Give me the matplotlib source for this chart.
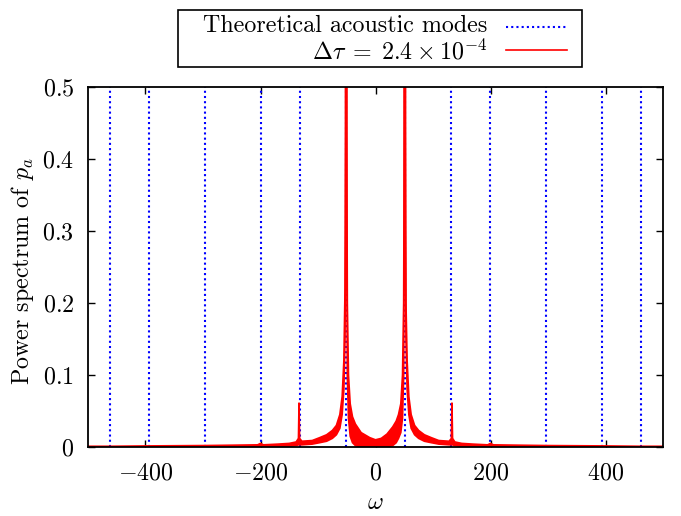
import matplotlib
matplotlib.use('Agg')
import matplotlib.pyplot as plt
from matplotlib.lines import Line2D
from matplotlib.patches import Rectangle

# theoretical acoustic mode frequencies
modes = [-462, -394, -297, -199, -131, -51, 51, 131, 199, 297, 394, 462]

# power spectrum of p_a (upper / lower envelope of the noisy trace)
omega = [-500, -460, -400, -300, -250, -205, -200, -195, -170, -150, -138, -134, -133, -132,
         -128, -110, -97, -85, -75, -68, -62, -58, -55, -53, -52, -51, -50, -49, -47, -44,
         -40, -35, -25, -10, 0, 10, 20, 30, 36, 40, 44, 47, 49, 50, 51, 52, 53, 55, 58, 62,
         68, 75, 85, 97, 110, 128, 132, 133, 134, 138, 150, 170, 195, 200, 205, 250, 300,
         400, 460, 500]
upper = [0.001, 0.001, 0.0015, 0.002, 0.0025, 0.003, 0.005, 0.003, 0.004, 0.005, 0.007, 0.012,
         0.061, 0.012, 0.008, 0.009, 0.013, 0.017, 0.023, 0.030, 0.045, 0.070, 0.12, 0.22, 0.45,
         3.0, 0.45, 0.20, 0.10, 0.060, 0.042, 0.032, 0.020, 0.013, 0.010, 0.012, 0.018, 0.028,
         0.036, 0.045, 0.060, 0.10, 0.20, 0.45, 3.0, 0.45, 0.20, 0.12, 0.070, 0.045, 0.030,
         0.023, 0.017, 0.013, 0.009, 0.008, 0.012, 0.061, 0.012, 0.007, 0.005, 0.004, 0.003,
         0.005, 0.003, 0.0025, 0.002, 0.0015, 0.001, 0.001]
lower = [0.0, 0.0, 0.0, 0.0, 0.0, 0.0, 0.0, 0.0, 0.0, 0.001, 0.002, 0.003, 0.003, 0.003, 0.003,
         0.004, 0.006, 0.008, 0.012, 0.017, 0.026, 0.045, 0.08, 0.15, 0.3, 3.0, 0.3, 0.10, 0.04,
         0.015, 0.006, 0.002, 0.0, 0.0, 0.0, 0.0, 0.0, 0.002, 0.006, 0.012, 0.02, 0.04, 0.10,
         0.3, 3.0, 0.3, 0.15, 0.08, 0.045, 0.026, 0.017, 0.012, 0.008, 0.006, 0.004, 0.003,
         0.003, 0.003, 0.003, 0.002, 0.001, 0.0, 0.0, 0.0, 0.0, 0.0, 0.0, 0.0, 0.0, 0.0]

xticks = [-400, -200, 0, 200, 400]
xticklabels = ['$-400$', '$-200$', '$0$', '$200$', '$400$']
yticks = [0, 0.1, 0.2, 0.3, 0.4, 0.5]
yticklabels = ['$0$', '$0.1$', '$0.2$', '$0.3$', '$0.4$', '$0.5$']

plt.rcParams['font.family'] = 'serif'
plt.rcParams['font.serif'] = ['cmr10']
plt.rcParams['mathtext.fontset'] = 'cm'
plt.rcParams['axes.formatter.use_mathtext'] = True
plt.rcParams['font.size'] = 17.3

W, H = 681, 516
fig = plt.figure(figsize=(W / 100, H / 100), dpi=100)
ax = fig.add_axes([88 / W, 1 - 447 / H, 575 / W, 360 / H])

for m in modes:
    ax.axvline(m, color='blue', ls=(0, (1, 1.5)), lw=1.5, zorder=2)

ax.fill_between(omega, lower, upper, color='red', lw=0, zorder=3)
ax.plot(omega, upper, color='red', lw=1.2, zorder=3)
ax.plot(omega, lower, color='red', lw=1.2, zorder=3)

ax.set_xlim(-500, 500)
ax.set_ylim(0, 0.5)
ax.set_xticks(xticks)
ax.set_xticklabels(xticklabels)
ax.set_yticks(yticks)
ax.set_yticklabels(yticklabels)
ax.tick_params(direction='in', length=5, width=1, top=True, right=True)
ax.tick_params(axis='x', pad=11)
ax.tick_params(axis='y', pad=10)
for s in ax.spines.values():
    s.set_linewidth(1.3)
    s.set_zorder(5)

ax.set_xlabel(r'$\omega$')
ax.xaxis.set_label_coords(0.5, -0.125)
ax.set_ylabel(r'Power spectrum of $p_a$')
ax.yaxis.set_label_coords(-0.09, 0.49)

# gnuplot style key above the plot
fig.patches.append(Rectangle((178 / W, 1 - 67 / H), 404 / W, 57 / H, transform=fig.transFigure,
                             fill=False, ec='black', lw=1.2))
fig.text(487 / W, 1 - 26 / H, 'Theoretical acoustic modes', ha='right', va='center')
fig.text(487 / W, 1 - 52 / H, r'$\Delta\tau\;=\;2.4\times10^{-4}$', ha='right', va='center')
fig.lines.append(Line2D([506 / W, 567 / W], [1 - 26.5 / H] * 2, transform=fig.transFigure,
                        color='blue', ls=(0, (1, 1.5)), lw=1.5))
fig.lines.append(Line2D([506 / W, 567 / W], [1 - 50 / H] * 2, transform=fig.transFigure,
                        color='red', lw=1.2))

fig.savefig('out.png', dpi=100)
